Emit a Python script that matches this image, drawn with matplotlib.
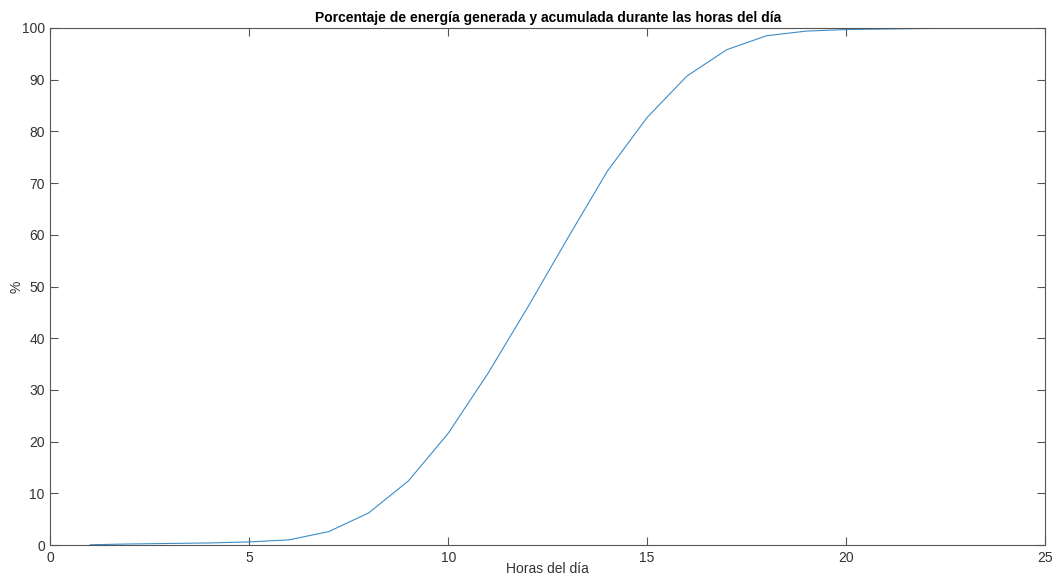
import numpy as np
import matplotlib
matplotlib.use("Agg")
import matplotlib.pyplot as plt

plt.rcParams['font.family'] = ['Liberation Sans', 'DejaVu Sans']

# porcentaje acumulado de energía por hora
horas = list(range(1, 25))
porcentaje = [0.05, 0.2, 0.3, 0.4, 0.6, 1.0, 2.6, 6.2, 12.4, 21.6, 33.2, 46.0,
              59.3, 72.3, 82.7, 90.7, 95.8, 98.5, 99.4, 99.7, 99.8, 99.9, 99.95, 100.0]

gris = '#333333'

fig = plt.figure(figsize=(10.53, 5.76), dpi=100)
ax = fig.add_axes([0.0478, 0.0538, 0.9446, 0.8976])
ax.plot(horas, porcentaje, color='#3d8cc8', lw=0.8)

ax.set_xlim(0, 25)
ax.set_ylim(0, 100)
ax.set_xticks(np.arange(0, 26, 5))
ax.set_yticks(np.arange(0, 101, 10))
ax.tick_params(direction='in', length=6, width=0.8, color='#555555', labelcolor=gris,
               labelsize=10, top=True, right=True, pad=4)
for s in ax.spines.values():
    s.set_color('#555555')
    s.set_linewidth(0.8)

ax.set_title('Porcentaje de energía generada y acumulada durante las horas del día',
             fontsize=10, fontweight='bold', pad=4)
ax.set_xlabel('Horas del día', fontsize=10, color=gris, labelpad=-2)
ax.set_ylabel('%', fontsize=10, color=gris, labelpad=-1)

fig.savefig('out.png', dpi=100)
